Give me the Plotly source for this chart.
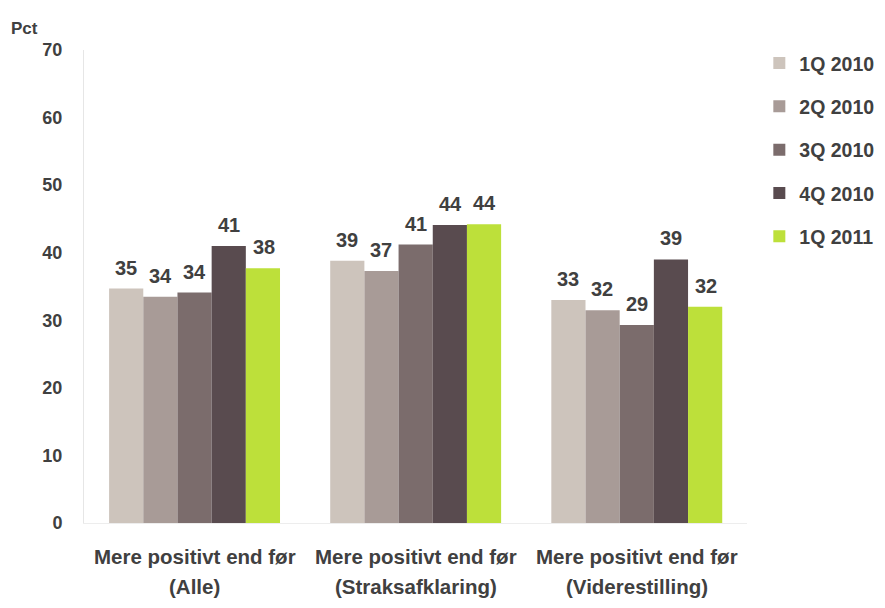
import plotly.graph_objects as go

# Survey results per category and quarter (percent)
categories = ["Alle", "Straksafklaring", "Viderestilling"]
label_prefix = "Mere positivt end før"
quarters = ["1Q 2010", "2Q 2010", "3Q 2010", "4Q 2010", "1Q 2011"]
values_1q2010 = [34.7, 38.8, 33.0]
values_2q2010 = [33.5, 37.3, 31.5]
values_3q2010 = [34.1, 41.2, 29.3]
values_4q2010 = [41.0, 44.1, 39.0]
values_1q2011 = [37.7, 44.2, 32.0]
y_ticks = [0, 10, 20, 30, 40, 50, 60, 70]

series = [values_1q2010, values_2q2010, values_3q2010, values_4q2010, values_1q2011]
colors = ["#cdc4bc", "#a89b97", "#7b6c6c", "#594b4f", "#bde03a"]

text_color = "#404040"
font_family = "Liberation Sans, Arial, sans-serif"

fig = go.Figure()
for name, vals, col in zip(quarters, series, colors):
    fig.add_trace(go.Bar(
        x=categories, y=vals, name=name, legendgroup=name,
        marker=dict(color=col, line=dict(width=0)),
    ))

width, height = 885, 608
margin = dict(l=84, r=131, t=50, b=85)
bargap = 0.227
n = len(series)
cat_px = (width - margin["l"] - margin["r"]) / len(categories)
bar_px = cat_px * (1 - bargap) / n

# value labels above each bar
for i, vals in enumerate(series):
    for c, v in zip(categories, vals):
        fig.add_annotation(
            x=c, y=v, xref="x", yref="y", text=f"{v:.0f}",
            showarrow=False, yanchor="bottom", xanchor="center",
            xshift=(i - (n - 1) / 2) * bar_px, yshift=8,
            font=dict(family=font_family, size=20, color=text_color, weight="bold"),
        )

# two-line category labels below the axis
for c in categories:
    fig.add_annotation(
        x=c, y=0, xref="x", yref="paper", text=label_prefix,
        showarrow=False, yanchor="middle", yshift=-33,
        font=dict(family=font_family, size=20.5, color=text_color, weight="bold"),
    )
    fig.add_annotation(
        x=c, y=0, xref="x", yref="paper", text=f"({c})",
        showarrow=False, yanchor="middle", yshift=-63,
        font=dict(family=font_family, size=20.5, color=text_color, weight="bold"),
    )

fig.add_annotation(
    x=0, y=1, xref="paper", yref="paper", text="Pct", showarrow=False,
    xanchor="left", yanchor="middle", xshift=-75, yshift=22,
    font=dict(family=font_family, size=17, color=text_color, weight="bold"),
)

fig.update_layout(
    width=width, height=height,
    margin=margin,
    paper_bgcolor="white", plot_bgcolor="white",
    barmode="group", bargap=bargap, bargroupgap=0,
    showlegend=True,
    legend=dict(
        xref="container", yref="container",
        x=0.858, y=0.928, xanchor="left", yanchor="top",
        font=dict(family=font_family, size=19.5, color=text_color, weight="bold"),
        tracegroupgap=15, itemwidth=30, borderwidth=0, bgcolor="rgba(0,0,0,0)",
    ),
    xaxis=dict(
        range=[-0.5, len(categories) - 0.5],
        showticklabels=False, showgrid=False, zeroline=False,
        showline=True, linecolor="#ededed", linewidth=1,
    ),
    yaxis=dict(
        range=[0, 70], tickvals=y_ticks, showgrid=False, zeroline=False,
        showline=True, linecolor="#e6e6e6", linewidth=1,
        ticklabelstandoff=17,
        tickfont=dict(family=font_family, size=18, color=text_color, weight="bold"),
    ),
)

fig.write_html("out.html")
